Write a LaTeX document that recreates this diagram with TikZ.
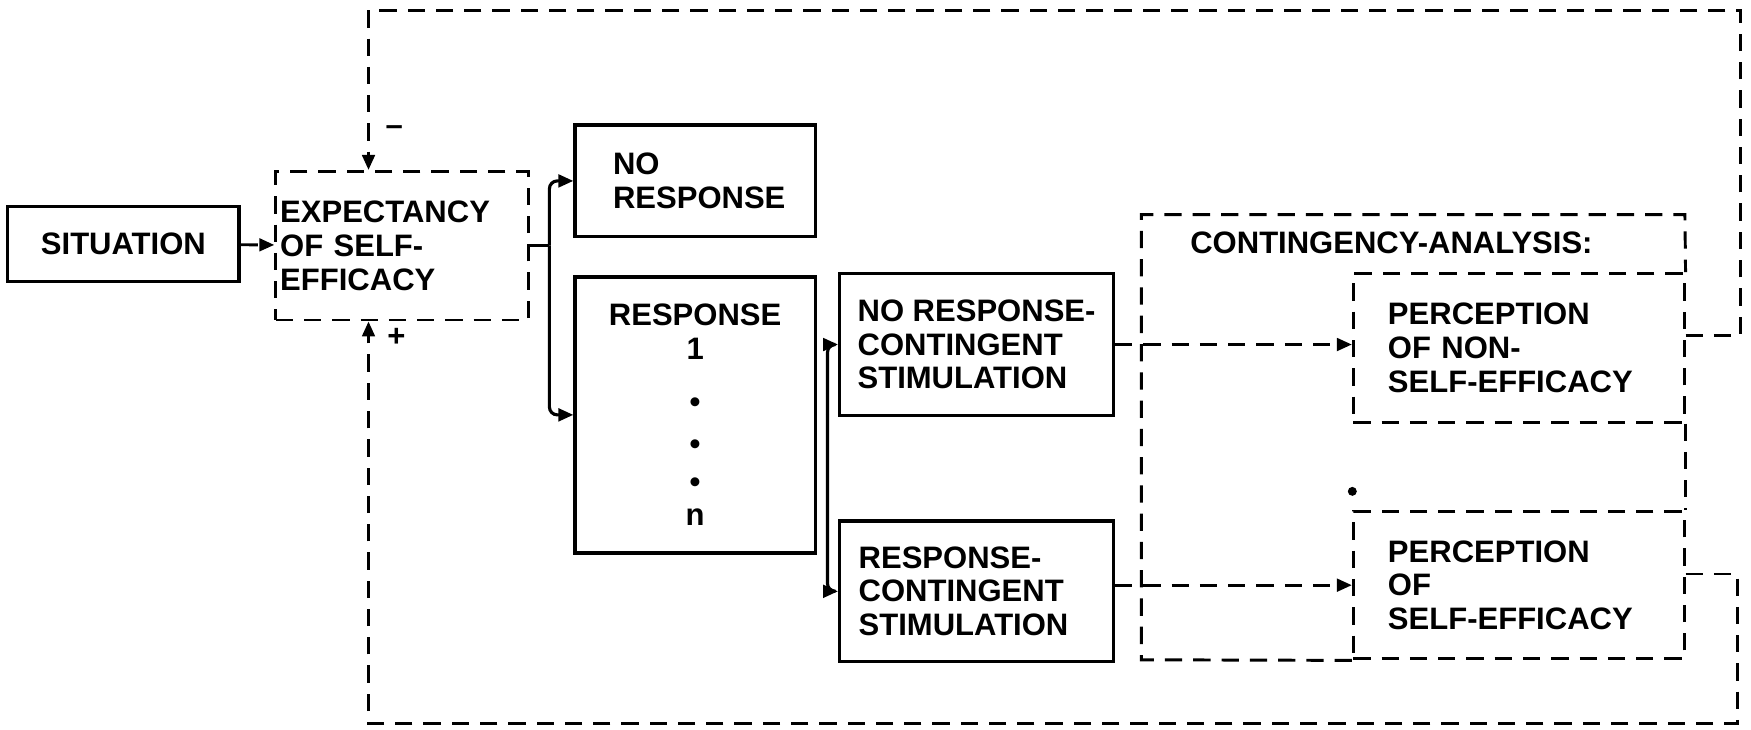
\documentclass[tikz,border=0pt]{standalone}
\usepackage{fontspec}
\setmainfont{Liberation Sans}
\usetikzlibrary{arrows.meta}
\begin{document}
\begin{tikzpicture}[x=0.01cm, y=-0.01cm,
    font=\fontsize{7.9}{8.6}\selectfont\bfseries,
    box/.style={draw, line width=0.85pt, align=left, inner sep=0pt},
    dashes/.style={line width=0.75pt, dash pattern=on 4.4pt off 2.8pt},
    dbox/.style={box, dashes},
    link/.style={line width=0.8pt, -{Triangle[length=3.8pt,width=3.2pt]}},
    dlink/.style={link, dashes}]
  \useasboundingbox (0,0) rectangle (1568,653);
  \draw
    (110.5,218.5) node[box, minimum width=2.07cm, minimum height=0.67cm] (sit) {SITUATION}
    (360,220) node[dbox, minimum height=1.33cm, text width=2.18cm, inner xsep=0.04cm] (exp) {EXPECTANCY\\OF SELF-\\EFFICACY}
    (622.5,162) node[box, minimum width=2.15cm, minimum height=1cm, text width=1.47cm, inner xsep=0.34cm] (nores) {NO\\RESPONSE}
    (622.5,371.5) node[box, minimum width=2.15cm, minimum height=2.47cm, align=center] (resp) {RESPONSE\\1\\[5pt]\textbullet\\[2pt]\textbullet\\[1pt]\textbullet\\n}
    (874.5,308.5) node[box, minimum width=2.45cm, minimum height=1.27cm] (nrc) {NO RESPONSE-\\CONTINGENT\\STIMULATION}
    (874.5,529.5) node[box, minimum height=1.26cm, text width=2.11cm, inner xsep=0.17cm] (rc) {RESPONSE-\\CONTINGENT\\STIMULATION}
    (1265.5,391.5) node[minimum width=4.85cm, minimum height=3.97cm, inner sep=0pt] (ca) {}
    (1246,217) node (cahead) {CONTINGENCY-ANALYSIS:}
    (1360,311.5) node[dbox, minimum height=1.33cm, text width=2.34cm, inner xsep=0.31cm] (pns) {PERCEPTION\\OF NON-\\SELF-EFFICACY}
    (1360,524) node[dbox, minimum height=1.32cm, text width=2.34cm, inner xsep=0.31cm] (ps) {PERCEPTION\\OF\\SELF-EFFICACY}
    (353,117) node (minus) {--}
    (355,302) node (plus) {+}
    (1211,440) node[circle, fill, inner sep=0pt, minimum size=0.08cm] (speck) {};
  \draw[dashes] (ps.south west) -- (ca.south west) |- (ca.north east) -- (pns.north east);
  \draw[dashes] (pns.south east) -- (ps.north east);
  \coordinate (fork) at (492,220);
  \coordinate (rbus) at (741,371.5);
  \coordinate (upR) at (1559,9);
  \coordinate (upL) at (330,9);
  \coordinate (dnR) at (1556,648);
  \coordinate (dnL) at (330,648);
  \begin{scope}[rounded corners=2pt]
    \draw[line width=0.8pt] (exp.east) -- (fork);
    \draw[link] (fork) |- (nores.west);
    \draw[link] (fork) |- (resp.west);
    \draw[link] (rbus) |- (nrc.west);
    \draw[link] (rbus) |- (rc.west);
  \end{scope}
  \draw[dlink] (sit) -- (exp);
  \draw[dlink] (nrc.east) -- (nrc.east -| pns.west);
  \draw[dlink] (rc.east |- ps.west) -- (ps.west);
  \draw[dlink] (pns.east |- 0,300) -| (upR) -| (exp.north -| upL);
  \draw[dlink] (ps.east |- 0,514) -| (dnR) -| (exp.south -| dnL);
\end{tikzpicture}
\end{document}
